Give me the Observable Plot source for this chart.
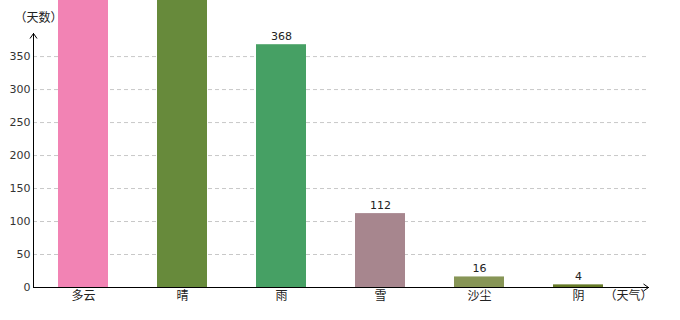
<!DOCTYPE html>
<html>
<head>
<meta charset="utf-8">
<script src="https://cdn.jsdelivr.net/npm/d3@7"></script>
<script src="https://cdn.jsdelivr.net/npm/@observablehq/plot@0.6"></script>
<style>
  html, body { margin: 0; padding: 0; background: #fff; }
  #chart svg { display: block; }
</style>
</head>
<body>
<div id="chart"></div>
<script>
const categories = ["多云", "晴", "雨", "雪", "沙尘", "阴"];
const values = [612, 531, 368, 112, 16, 4];
const colors = ["#f283b4", "#678a3b", "#46a064", "#a7868e", "#879556", "#667a28"];
const yTicks = [0, 50, 100, 150, 200, 250, 300, 350];
const yMax = 385;
const yTitle = "（天数）";
const xTitle = "（天气）";

const data = categories.map((c, i) => ({ cat: c, value: values[i], color: colors[i] }));

const chevronUp = { draw(ctx) { ctx.moveTo(-3.5, 5); ctx.lineTo(0, 0); ctx.lineTo(3.5, 5); } };
const chevronRight = { draw(ctx) { ctx.moveTo(-5, -3.5); ctx.lineTo(0, 0); ctx.lineTo(-5, 3.5); } };

const font = "'DejaVu Sans', 'Noto Sans CJK SC', sans-serif";
const cjk = "'Noto Sans CJK SC', sans-serif";

const chart = Plot.plot({
  width: 680,
  height: 320,
  marginTop: 33,
  marginBottom: 33,
  marginLeft: 33,
  marginRight: 32,
  style: { fontFamily: font, fontSize: "11px", color: "#222", background: "#fff" },
  x: { domain: categories, paddingInner: 0.5, paddingOuter: 0.25, insetRight: 21, label: null },
  y: { domain: [0, yMax], label: null },
  marks: [
    Plot.text([yTitle], { text: d => d, frameAnchor: "top-left", dx: -19, dy: -20, textAnchor: "start", fontSize: 12, fill: "#222", fontFamily: cjk }),
    Plot.text([xTitle], { text: d => d, frameAnchor: "bottom-right", dx: -20, dy: 12, textAnchor: "middle", fontSize: 12, fill: "#222", fontFamily: cjk }),
    Plot.gridY(yTicks.filter(t => t > 0), { stroke: "#c8c8c8", strokeOpacity: 1, strokeDasharray: "4,3" }),
    Plot.barY(data, { x: "cat", y: "value", fill: "color" }),
    Plot.text(data.filter(d => d.value <= yMax), { x: "cat", y: "value", text: d => String(d.value), dy: -8, fill: "#222", fontSize: 11 }),
    Plot.axisY({ ticks: yTicks, tickSize: 0, tickPadding: 3, fontSize: 11, fill: "#333" }),
    Plot.axisX({ tickSize: 0, tickPadding: 4, fontSize: 12, fill: "#222", fontFamily: cjk }),
    Plot.frame({ anchor: "left", stroke: "#000" }),
    Plot.frame({ anchor: "bottom", stroke: "#000" }),
    Plot.dot([0], { frameAnchor: "top-left", symbol: chevronUp, stroke: "#000", fill: "none", strokeWidth: 1 }),
    Plot.dot([0], { frameAnchor: "bottom-right", symbol: chevronRight, stroke: "#000", fill: "none", strokeWidth: 1 })
  ]
});

document.getElementById("chart").appendChild(chart);
</script>
</body>
</html>
